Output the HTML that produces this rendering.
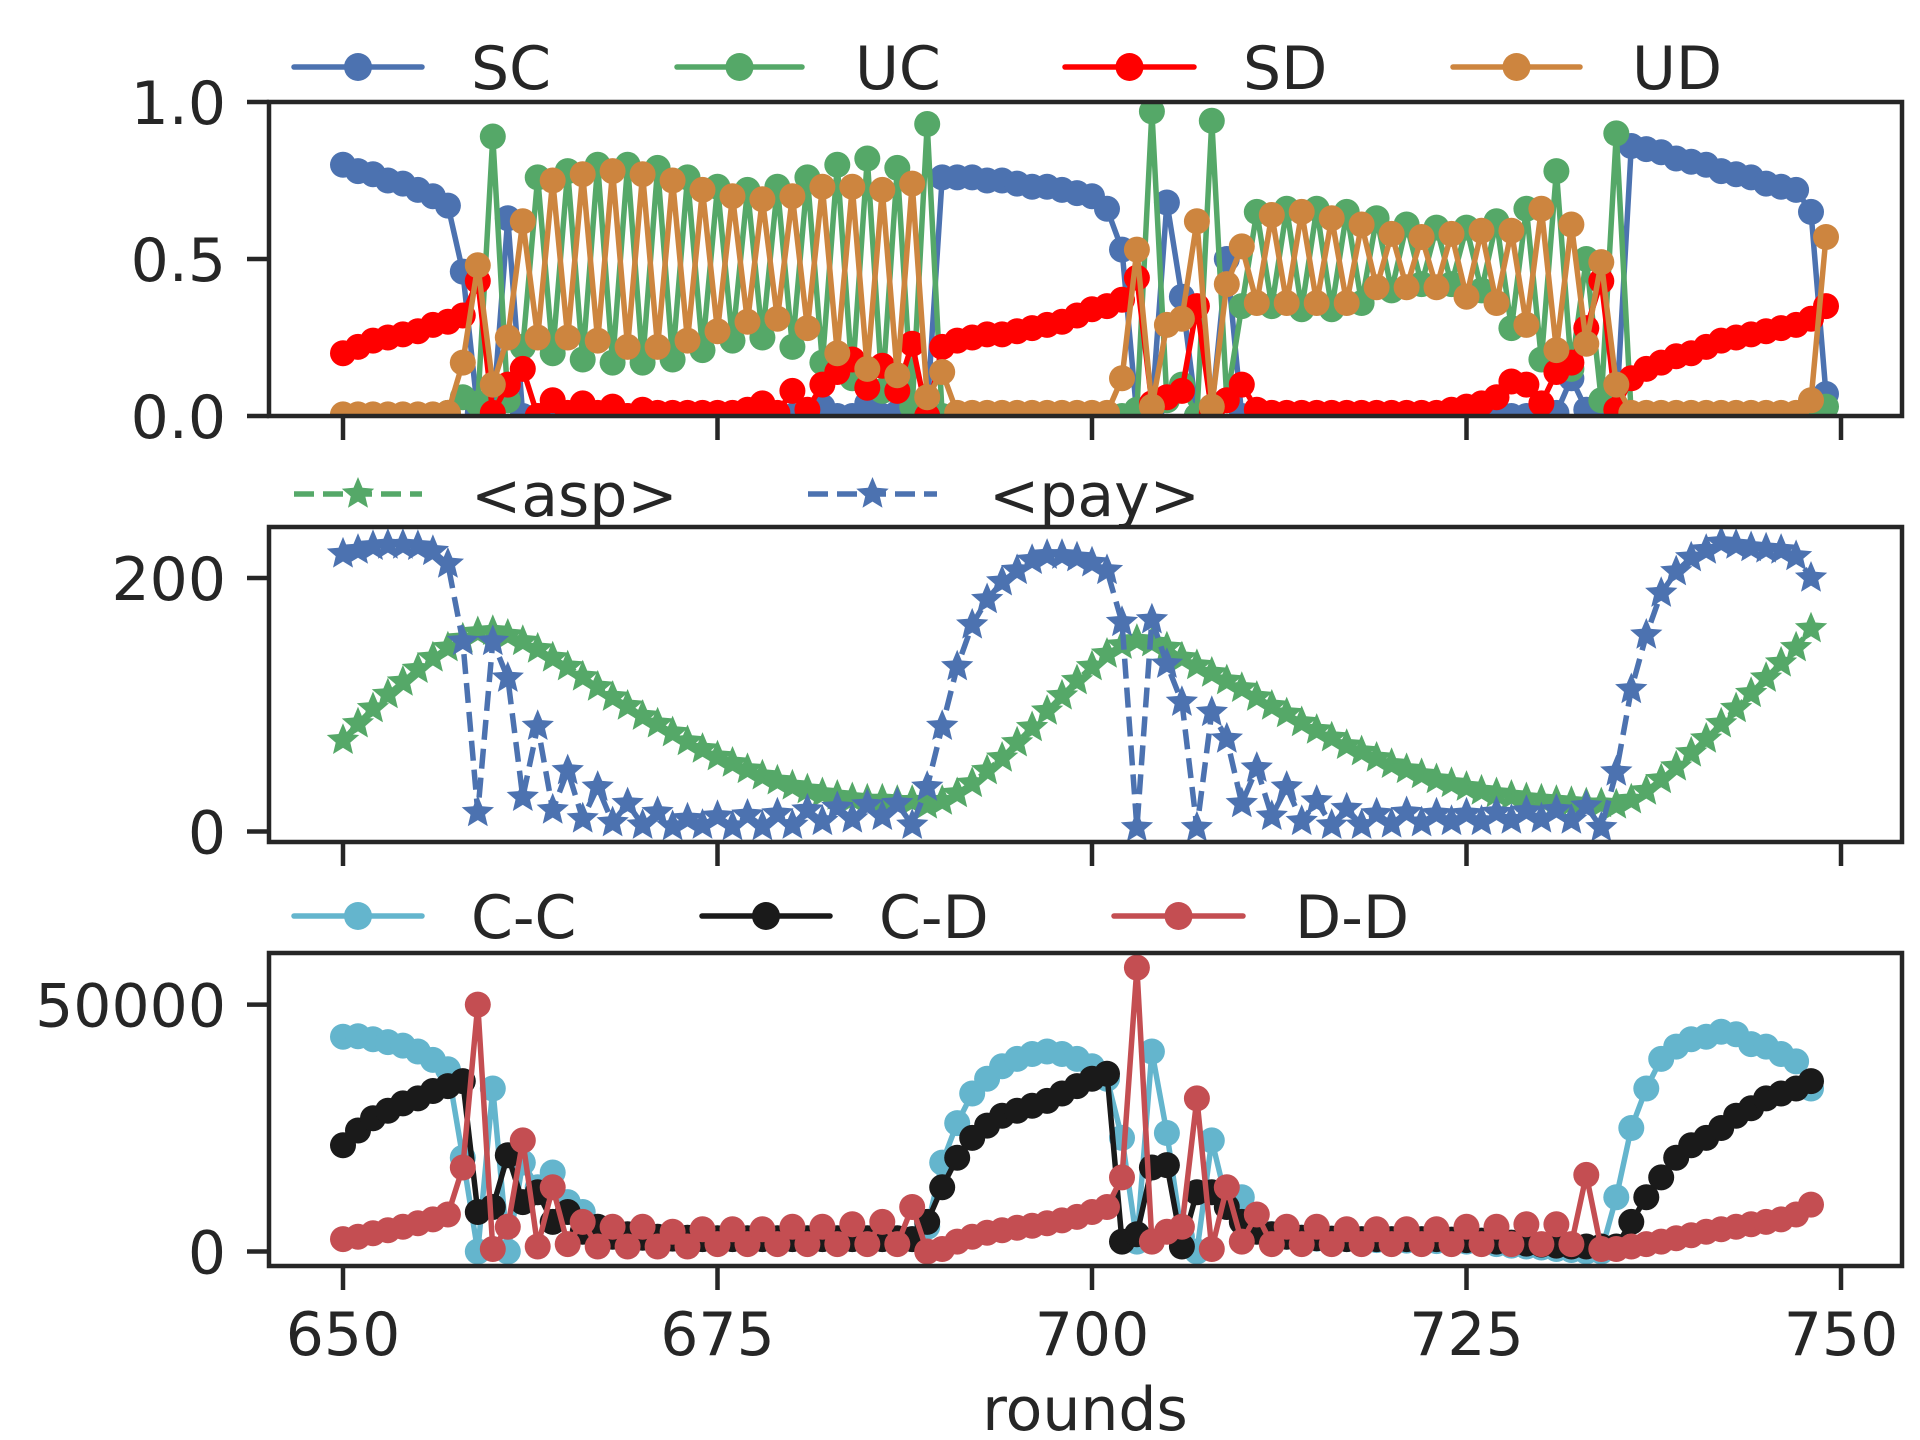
<!DOCTYPE html>
<html><head><meta charset="utf-8"><style>
html,body{margin:0;padding:0;background:#fff;}
svg{display:block;}
text{font-family:"DejaVu Sans","Liberation Sans",sans-serif;fill:#262626;}
</style></head><body>
<svg id="fig" width="1920" height="1440" viewBox="0 0 1920 1440" xmlns="http://www.w3.org/2000/svg">
<defs>
<clipPath id="c1"><rect x="269" y="102" width="1633" height="314"/></clipPath>
<clipPath id="c2"><rect x="269" y="527" width="1633" height="315"/></clipPath>
<clipPath id="c3"><rect x="269" y="953" width="1633" height="313"/></clipPath>
</defs>
<g id="root"></g>
</svg>
<script>
// ---- data ----
const roundsTop = Array.from({length:100},(_,i)=>650+i);
const roundsMid = Array.from({length:99},(_,i)=>650+i);
const xTicks = [650,675,700,725,750];
const SC = [.80,.78,.77,.75,.74,.72,.70,.67,.46,.01, 0,.63,0,0,0,0,0,0,0,0, 0,0,0,0,0,0,0,0,0,0, 0,0,.03,0,0,.04,0,.01,0,.02,
 .76,.76,.76,.75,.75,.74,.73,.73,.72,.71, .70,.66,.53,0,.02,.68,.38,0,.02,.50, 0,0,0,0,0,0,0,0,0,0, 0,0,0,0,0,0,0,0,0,0,
 0,.01,.12,.02,0,.01,.86,.85,.84,.82, .81,.80,.78,.77,.76,.74,.73,.72,.65,.07];
const UC = [0,0,0,0,0,0,0,.01,.06,.04, .89,.05,.22,.76,.20,.78,.18,.80,.17,.80, .17,.79,.18,.76,.21,.73,.24,.72,.25,.73,
 .22,.76,.17,.80,.12,.82,.08,.79,.03,.93, 0,0,0,0,0,0,0,0,0,0, 0,0,0,.02,.97,.05,.10,0,.94,.05,
 .35,.65,.35,.66,.34,.66,.34,.65,.36,.63, .40,.61,.42,.60,.42,.60,.40,.62,.28,.66, .18,.78,.15,.50,.05,.90,0,0,0,0, 0,0,0,0,0,0,0,0,.01,.03];
const SD = [.20,.22,.24,.25,.26,.27,.29,.30,.32,.43, .01,.10,.15,0,.05,.01,.04,.01,.03,0, .02,.01,.01,.01,.01,.01,.01,.02,.04,.01,
 .08,.02,.10,.14,.18,.09,.16,.08,.23,0, .22,.24,.25,.26,.26,.27,.28,.29,.30,.32, .34,.35,.37,.44,.04,.06,.08,.35,.01,.05,
 .10,.02,.01,.01,.01,.01,.01,.01,.01,.01, .01,.01,.01,.01,.02,.03,.04,.06,.11,.10, .04,.14,.17,.28,.43,.02,.12,.15,.17,.19,
 .20,.22,.24,.25,.26,.27,.28,.29,.31,.35];
const UD = [.005,.005,.005,.005,.005,.005,.005,.01,.17,.48, .10,.25,.62,.25,.75,.25,.77,.24,.78,.22, .77,.22,.75,.24,.72,.27,.70,.30,.69,.31,
 .70,.28,.73,.20,.73,.15,.72,.13,.74,.06, .14,.01,.01,.01,.01,.01,.01,.01,.01,.01, .01,.01,.12,.53,.03,.29,.31,.62,.03,.42,
 .54,.36,.64,.36,.65,.36,.63,.36,.61,.41, .58,.41,.57,.41,.58,.38,.59,.36,.59,.29, .66,.21,.61,.23,.49,.10,.01,.01,.01,.01,
 .01,.01,.01,.01,.01,.01,.01,.01,.05,.57];
const ASP = [72,85,97,108,118,128,137,145,152,157, 158,155,150,144,137,130,122,114,106,99, 91,85,78,71,65,59,54,49,44,40,
 36,33,30,28,26,25,25,24,24,21, 24,30,38,48,58,70,82,95,107,119, 130,140,147,151,149,145,137,131,125,119,
 113,106,99,93,86,80,74,68,63,58, 53,49,45,41,38,35,32,30,28,26, 25,24,23,22,22,21,25,32,41,51,
 62,73,85,97,109,121,133,145,160];
const PAY = [219,222,225,226,226,225,221,211,150,15, 150,121,27,83,17,48,10,35,7,22, 5,15,4,10,5,12,4,13,4,14,
 5,17,8,19,10,21,12,22,5,35, 83,130,163,183,197,206,214,218,218,216, 212,206,165,3,167,132,102,3,94,73,
 22,50,12,35,8,24,5,18,5,14, 6,15,7,14,8,14,8,15,9,16, 10,17,9,20,3,47,112,155,188,205,
 216,222,228,226,224,223,222,217,200];
const CC = [43500,43600,43000,42400,41700,40500,38800,36900,19000,0, 33000,0,18000,13000,16000,10000,8000,4500,3500,3000,
 3000,2800,2700,2600,2500,2500,2500,2500,2500,2500, 2500,2500,2500,2500,2500,2500,2500,2500,2500,5000,
 18000,26000,32000,35000,37500,39000,40000,40500,40000,39000, 37500,35000,23000,2000,40500,24000,3000,0,22500,10000,
 11000,5000,3500,3000,2800,2600,2500,2500,2400,2300, 2300,2200,2200,2100,2000,2000,1800,1500,1200,1000,
 800,500,300,0,0,11000,25000,33000,39000,41500, 43000,43500,44500,44000,42000,41500,40000,38500,33000];
const CD = [21500,24500,27000,28500,30000,31000,32500,33500,34500,8000, 9000,19500,10000,12000,6000,8000,4000,5000,3000,3500,
 2800,3000,2600,2800,2500,2700,2500,2700,2500,2700, 2500,2700,2500,2700,2500,2700,2500,2700,2500,6000,
 13000,19000,23000,25500,27500,28500,29500,30500,32000,33500, 35000,36000,2000,3500,17000,17500,1000,12000,12000,9000,
 6000,4000,3500,3000,2800,2700,2600,2500,2500,2500, 2500,2500,2500,2500,2400,2300,2200,2000,1800,1600,
 1400,1200,1000,1000,1000,1000,6000,11000,15000,19000, 21500,23000,25000,27500,29000,31000,32000,33000,34500];
const DD = [2500,3000,3700,4300,5000,5700,6500,7500,17000,50000, 500,5000,22500,1000,13000,1500,6000,1000,5000,1000,
 5000,1000,4000,1000,4500,1500,4500,1500,4500,1500, 5000,1500,5000,1500,5500,1500,6000,1500,9000,0,
 500,2000,3000,3800,4300,4800,5200,5700,6300,7000, 8000,9000,15000,57500,2000,4000,5000,31000,500,13000,
 2000,7500,1500,5000,1500,5000,1500,4500,1500,4500, 1500,4500,1500,4500,1500,5000,1500,5000,1500,5500,
 1500,5500,1500,15500,500,500,1000,1500,2000,2700, 3300,4000,4500,5000,5500,6000,6500,7500,9500];
const topTicks = [0,0.5,1.0], topTickLabels = ["0.0","0.5","1.0"];
const midTicks = [0,200], midTickLabels = ["0","200"];
const botTicks = [0,50000], botTickLabels = ["0","50000"];

// ---- layout ----
const NS="http://www.w3.org/2000/svg";
const root=document.getElementById('root');
const X0=269,X1=1902;
const LW=5.5;
const xs=v=>343+(v-650)*14.98;
function mk(tag,attrs,parent){const e=document.createElementNS(NS,tag);for(const k in attrs)e.setAttribute(k,attrs[k]);(parent||root).appendChild(e);return e;}
const panels=[
 {top:102,bot:416,y0:0,y1:1,clip:'c1',ticks:topTicks,labels:topTickLabels,name:'strategy-panel'},
 {top:527,bot:842,y0:-8.3,y1:240.2,clip:'c2',ticks:midTicks,labels:midTickLabels,name:'payoff-panel'},
 {top:953,bot:1266,y0:-2940,y1:60450,clip:'c3',ticks:botTicks,labels:botTickLabels,name:'pairs-panel'}];
panels.forEach(p=>{p.ys=v=>p.bot-(v-p.y0)/(p.y1-p.y0)*(p.bot-p.top);});

function starPath(cx,cy,R){const r=R*0.45;let d='';for(let i=0;i<10;i++){const a=-Math.PI/2+i*Math.PI/5;const rr=i%2?r:R;d+=(i?'L':'M')+(cx+rr*Math.cos(a)).toFixed(1)+','+(cy+rr*Math.sin(a)).toFixed(1);}return d+'Z';}

function series(p,xsArr,vals,color,name,marker,dashed){
 const g=mk('g',{'clip-path':'url(#'+p.clip+')'});
 
 
 const pts=vals.map((v,i)=>xs(xsArr[i]).toFixed(1)+','+p.ys(v).toFixed(1)).join(' ');
 const pl=mk('polyline',{points:pts,fill:'none',stroke:color,'stroke-width':LW,'stroke-linejoin':'round','stroke-linecap':dashed?'butt':'round'},g);
 if(dashed)pl.setAttribute('stroke-dasharray','20,9');
 
 
 vals.forEach((v,i)=>{
  let m;
  if(marker==='o')m=mk('circle',{cx:xs(xsArr[i]).toFixed(1),cy:p.ys(v).toFixed(1),r:13,fill:color},g);
  else m=mk('path',{d:starPath(xs(xsArr[i]),p.ys(v),17),fill:color},g);
  
  
 });
}

series(panels[0],roundsTop,SC,'#4C72B0','sc','o');
series(panels[0],roundsTop,UC,'#55A868','uc','o');
series(panels[0],roundsTop,SD,'#FF0000','sd','o');
series(panels[0],roundsTop,UD,'#CD853F','ud','o');
series(panels[1],roundsMid,ASP,'#55A868','asp','*',true);
series(panels[1],roundsMid,PAY,'#4C72B0','pay','*',true);
series(panels[2],roundsMid,CC,'#64B5CD','cc','o');
series(panels[2],roundsMid,CD,'#1A1A1A','cd','o');
series(panels[2],roundsMid,DD,'#C44E52','dd','o');

panels.forEach((p,pi)=>{
 const fr=mk('rect',{x:X0,y:p.top,width:X1-X0,height:p.bot-p.top,fill:'none',stroke:'#262626','stroke-width':4.5});
 
 
 p.ticks.forEach((t,i)=>{
  const y=p.ys(t);
  const tk=mk('line',{x1:X0-22,x2:X0,y1:y,y2:y,stroke:'#262626','stroke-width':4.5});
  
  
  const tl=mk('text',{x:226,y:y+22,'text-anchor':'end','font-size':60});
  tl.textContent=p.labels[i];
  
  
 });
 xTicks.forEach(t=>{
  const x=xs(t);
  const tk=mk('line',{x1:x,x2:x,y1:p.bot,y2:p.bot+24,stroke:'#262626','stroke-width':4.5});
  
  
  if(pi===2){
   const tl=mk('text',{x:x,y:1355,'text-anchor':'middle','font-size':60});
   tl.textContent=String(t);
   
   
  }
 });
});
const xl=mk('text',{x:1085,y:1430,'text-anchor':'middle','font-size':60});
xl.textContent='rounds';



function legend(x1,x2,tx,y,label,color,marker,dashed){
 const g=mk('g',{});
 
 
 const l=mk('line',{x1:x1,x2:x2,y1:y,y2:y,stroke:color,'stroke-width':LW,'stroke-linecap':dashed?'butt':'round'},g);
 if(dashed)l.setAttribute('stroke-dasharray','20,9');
 const cx=(x1+x2)/2;
 if(marker==='o')mk('circle',{cx:cx,cy:y,r:14,fill:color},g);
 else mk('path',{d:starPath(cx,y,17),fill:color},g);
 const t=mk('text',{x:tx,y:y+22,'font-size':60},g);
 t.textContent=label;
}
legend(294,422,471,67,'SC','#4C72B0','o');
legend(677,802,855,67,'UC','#55A868','o');
legend(1065,1194,1243,67,'SD','#FF0000','o');
legend(1453,1580,1632,67,'UD','#CD853F','o');
legend(294,422,471,494,'<asp>','#55A868','*',true);
legend(808,937,989,494,'<pay>','#4C72B0','*',true);
legend(294,422,471,916,'C-C','#64B5CD','o');
legend(702,830,879,916,'C-D','#1A1A1A','o');
legend(1114,1243,1295,916,'D-D','#C44E52','o');
</script>
</body></html>
